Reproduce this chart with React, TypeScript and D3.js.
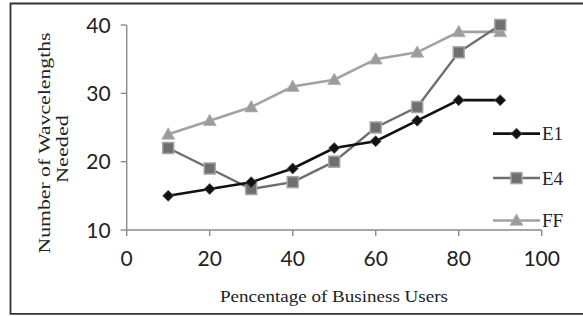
import React from "react";
import * as d3 from "d3";

const xValues = [10, 20, 30, 40, 50, 60, 70, 80, 90];
const e1 = [15, 16, 17, 19, 22, 23, 26, 29, 29];
const e4 = [22, 19, 16, 17, 20, 25, 28, 36, 40];
const ff = [24, 26, 28, 31, 32, 35, 36, 39, 39];
const xTicks = [0, 20, 40, 60, 80, 100];
const yTicks = [10, 20, 30, 40];
const seriesNames = ["E1", "E4", "FF"];

const W = 583;
const H = 316;

export default function App() {
  const x = d3.scaleLinear().domain([0, 100]).range([126.7, 541.7]);
  const y = d3.scaleLinear().domain([10, 40]).range([230, 25]);
  const line = d3
    .line<number>()
    .x((_, i) => x(xValues[i]))
    .y((d) => y(d));

  const seriesData = [e1, e4, ff];
  const styles = [
    { stroke: "#111", width: 2.6, marker: "diamond", fill: "#111", mstroke: "#555" },
    { stroke: "#6e6e6e", width: 2.4, marker: "square", fill: "#6f6f6f", mstroke: "#a5a5a5" },
    { stroke: "#a2a2a2", width: 2.6, marker: "triangle", fill: "#9c9c9c", mstroke: "#b0b0b0" },
  ];

  const drawMarker = (kind: string, cx: number, cy: number, fill: string, ms: string, key: string) => {
    if (kind === "diamond") {
      const s = 5.5;
      return (
        <path
          key={key}
          d={`M${cx},${cy - s}L${cx + s},${cy}L${cx},${cy + s}L${cx - s},${cy}Z`}
          fill={fill}
          stroke={ms}
          strokeWidth={0.8}
        />
      );
    }
    if (kind === "square") {
      const s = 5.5;
      return (
        <rect key={key} x={cx - s} y={cy - s} width={2 * s} height={2 * s} fill={fill} stroke={ms} strokeWidth={1.5} />
      );
    }
    const s = 6.5;
    return (
      <path
        key={key}
        d={`M${cx},${cy - s}L${cx + s},${cy + s * 0.75}L${cx - s},${cy + s * 0.75}Z`}
        fill={fill}
        stroke={ms}
        strokeWidth={0.8}
      />
    );
  };

  const legendY = [y(24.1), y(17.6), y(11.4)];

  return (
    <svg
      width={W}
      height={H}
      style={{ position: "fixed", left: 0, top: 0, background: "#fff" }}
      xmlns="http://www.w3.org/2000/svg"
    >
      <rect x={0} y={0} width={W} height={H} fill="#fff" />
      {/* frame */}
      <path d={`M${W + 5},3.5H10.5V313.8H${W + 5}`} fill="none" stroke="#333" strokeWidth={1.8} />

      {/* y axis */}
      <line x1={x(0)} x2={x(0)} y1={y(40)} y2={y(10)} stroke="#8a8a8a" strokeWidth={1.4} />
      {yTicks.map((t) => (
        <g key={"y" + t}>
          <line x1={x(0) - 6} x2={x(0)} y1={y(t)} y2={y(t)} stroke="#8a8a8a" strokeWidth={1.4} />
          <text
            x={x(0) - 16}
            y={y(t)}
            dy="0.36em"
            textAnchor="end"
            fontFamily="Lato, 'Open Sans', sans-serif"
            fontSize={21}
            fill="#222"
          >
            {t}
          </text>
        </g>
      ))}

      {/* x axis */}
      <line x1={x(0)} x2={x(100)} y1={y(10)} y2={y(10)} stroke="#8a8a8a" strokeWidth={1.4} />
      {xTicks.map((t) => (
        <g key={"x" + t}>
          <line x1={x(t)} x2={x(t)} y1={y(10)} y2={y(10) + 6} stroke="#8a8a8a" strokeWidth={1.4} />
          <text
            x={x(t)}
            y={258}
            dy="0.36em"
            textAnchor="middle"
            fontFamily="Lato, 'Open Sans', sans-serif"
            fontSize={21}
            fill="#222"
          >
            {t}
          </text>
        </g>
      ))}

      {/* axis titles */}
      <text
        x={334}
        y={302}
        textAnchor="middle"
        fontFamily="'Liberation Serif', 'DejaVu Serif', serif"
        fontSize={17}
        fill="#222"
        textLength={228}
        lengthAdjust="spacingAndGlyphs"
      >
        Pencentage of Business Users
      </text>
      <g transform="translate(50,143) rotate(-90)">
        <text
          x={0}
          y={0}
          textAnchor="middle"
          fontFamily="'Liberation Serif', 'DejaVu Serif', serif"
          fontSize={17}
          fill="#222"
          textLength={221}
          lengthAdjust="spacingAndGlyphs"
        >
          Number of Wavcelengths
        </text>
        <text
          x={-6}
          y={17.5}
          textAnchor="middle"
          fontFamily="'Liberation Serif', 'DejaVu Serif', serif"
          fontSize={17}
          fill="#222"
          textLength={68}
          lengthAdjust="spacingAndGlyphs"
        >
          Needed
        </text>
      </g>

      {/* series (draw FF first, then E4, then E1) */}
      {[2, 1, 0].map((si) => {
        const st = styles[si];
        const data = seriesData[si];
        return (
          <g key={"s" + si}>
            <path d={line(data) || ""} fill="none" stroke={st.stroke} strokeWidth={st.width} />
            {data.map((v, i) => drawMarker(st.marker, x(xValues[i]), y(v), st.fill, st.mstroke, `m${si}-${i}`))}
          </g>
        );
      })}

      {/* legend */}
      {seriesNames.map((name, i) => {
        const st = styles[i];
        const ly = legendY[i];
        return (
          <g key={"l" + name}>
            <line x1={493} x2={540} y1={ly} y2={ly} stroke={st.stroke} strokeWidth={st.width} />
            {drawMarker(st.marker, 516.5, ly, st.fill, st.mstroke, "lm" + i)}
            <text
              x={542}
              y={ly}
              dy="0.35em"
              fontFamily="'Liberation Serif', 'DejaVu Serif', serif"
              fontSize={19}
              fill="#222"
            >
              {name}
            </text>
          </g>
        );
      })}
    </svg>
  );
}
